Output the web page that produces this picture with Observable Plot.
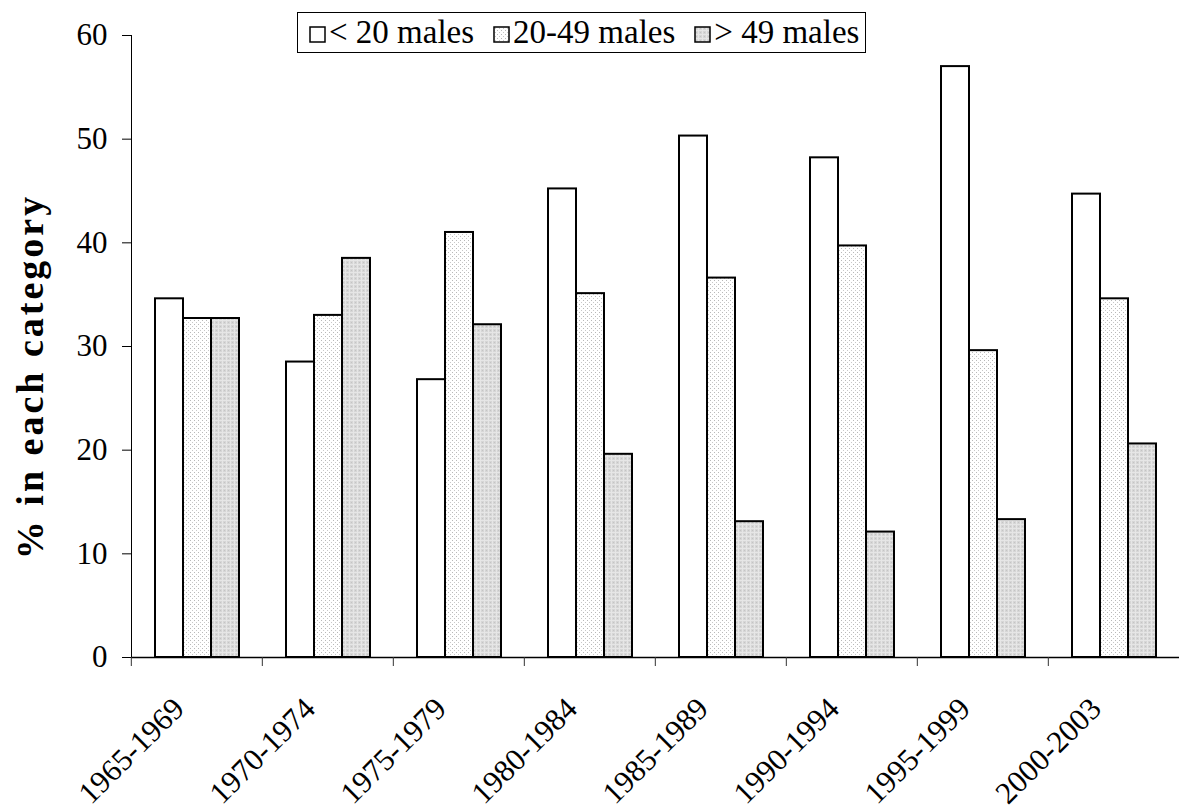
<!DOCTYPE html>
<html>
<head>
<meta charset="utf-8">
<script src="https://cdn.jsdelivr.net/npm/d3@7"></script>
<script src="https://cdn.jsdelivr.net/npm/@observablehq/plot@0.6"></script>
<style>
  html, body { margin: 0; padding: 0; background: #fff; }
  #wrap { position: relative; width: 1180px; height: 811px; font-family: "Liberation Serif", "Times New Roman", serif; }
  #legend {
    position: absolute; left: 297px; top: 12px; height: 39px;
    border: 1.5px solid #000; background: #fff;
    display: flex; align-items: center; padding: 0 6px 0 11px;
    font-size: 33px; line-height: 39px; color: #000; white-space: nowrap;
  }
  #legend .item { display: flex; align-items: center; margin-right: 19px; }
  #legend .item:last-child { margin-right: 0; }
  #legend svg { margin-right: 3px; margin-top: 3px; }
</style>
</head>
<body>
<svg width="0" height="0" style="position:absolute">
  <defs>
    <pattern id="pat-mid" width="4" height="4" patternUnits="userSpaceOnUse">
      <rect width="4" height="4" fill="#ffffff"/>
      <rect x="0" y="0" width="1" height="1" fill="#b8b8b8"/>
      <rect x="2" y="2" width="1" height="1" fill="#c8c8c8"/>
    </pattern>
    <pattern id="pat-hi" width="4" height="4" patternUnits="userSpaceOnUse">
      <rect width="4" height="4" fill="#d6d6d6"/>
      <rect x="0" y="0" width="4" height="1" fill="#e6e6e6"/>
      <rect x="0" y="0" width="1" height="4" fill="#e6e6e6"/>
      <rect x="2" y="2" width="1" height="1" fill="#c4c4c4"/>
    </pattern>
  </defs>
</svg>
<div id="wrap"></div>
<script>
// ---- data ----
const periods = ["1965-1969", "1970-1974", "1975-1979", "1980-1984", "1985-1989", "1990-1994", "1995-1999", "2000-2003"];
const series = ["< 20 males", "20-49 males", "> 49 males"];
const lessThan20 = [34.6, 28.5, 26.8, 45.2, 50.3, 48.2, 57.0, 44.7];
const from20to49 = [32.7, 33.0, 41.0, 35.1, 36.6, 39.7, 29.6, 34.6];
const moreThan49 = [32.7, 38.5, 32.1, 19.6, 13.1, 12.1, 13.3, 20.6];
const yTicks = [0, 10, 20, 30, 40, 50, 60];
const yLabel = "% in each category";

// ---- styles ----
const fills = ["#ffffff", "url(#pat-mid)", "url(#pat-hi)"];

const columns = [lessThan20, from20to49, moreThan49];
const table = periods.flatMap((p, i) => series.map((s, j) => ({period: p, series: s, value: columns[j][i]})));

const frameW = 1180 - 129 - 0;
const facetStep = frameW / periods.length;

const chart = Plot.plot({
  width: 1180,
  height: 811,
  marginLeft: 129,
  marginRight: 0,
  marginTop: 35,
  marginBottom: 154,
  style: {fontFamily: "'Liberation Serif', 'Times New Roman', serif", fontSize: "31px", color: "#000", background: "#fff", overflow: "visible"},
  fx: {domain: periods, padding: 0, axis: null, label: null},
  x: {domain: series, paddingInner: 0, paddingOuter: 0.765, axis: null, label: null},
  y: {domain: [0, 60], ticks: yTicks, tickSize: 9, tickPadding: 15, line: true, label: null},
  color: {domain: series, range: fills},
  marks: [
    Plot.barY(table, {fx: "period", x: "series", y: "value", fill: "series", stroke: "#000", strokeWidth: 2}),
    Plot.ruleY([0], {stroke: "#000", strokeWidth: 1.5}),
    Plot.axisFx({anchor: "bottom", tickSize: 9, tickFormat: () => "", dx: -facetStep / 2, stroke: "#333"}),
    Plot.text(periods, {fx: d => d, text: d => d, frameAnchor: "bottom", rotate: -45, textAnchor: "end", lineAnchor: "middle", dx: -18, dy: 46, fontSize: 31}),
    Plot.text([yLabel], {frameAnchor: "left", facetAnchor: "left", text: d => d, rotate: -90, textAnchor: "middle", lineAnchor: "middle", dx: -101, dy: 30, fontSize: 38, fontWeight: "bold"})
  ]
});

// slightly wider tracking on the axis title, as in the reference
d3.select(chart).selectAll("text").filter(function() { return this.textContent === yLabel; })
  .style("letter-spacing", "3px");

const wrap = document.getElementById("wrap");
wrap.appendChild(chart);

// legend (overlapping the top of the chart, as in the reference)
const legend = document.createElement("div");
legend.id = "legend";
series.forEach((s, j) => {
  const item = document.createElement("div");
  item.className = "item";
  const sw = document.createElementNS("http://www.w3.org/2000/svg", "svg");
  sw.setAttribute("width", 17);
  sw.setAttribute("height", 17);
  const r = document.createElementNS("http://www.w3.org/2000/svg", "rect");
  r.setAttribute("x", 1); r.setAttribute("y", 1);
  r.setAttribute("width", 15); r.setAttribute("height", 15);
  r.setAttribute("fill", fills[j]);
  r.setAttribute("stroke", "#000");
  r.setAttribute("stroke-width", 1.5);
  sw.appendChild(r);
  const t = document.createElement("span");
  t.textContent = s;
  item.appendChild(sw);
  item.appendChild(t);
  legend.appendChild(item);
});
wrap.appendChild(legend);
</script>
</body>
</html>
